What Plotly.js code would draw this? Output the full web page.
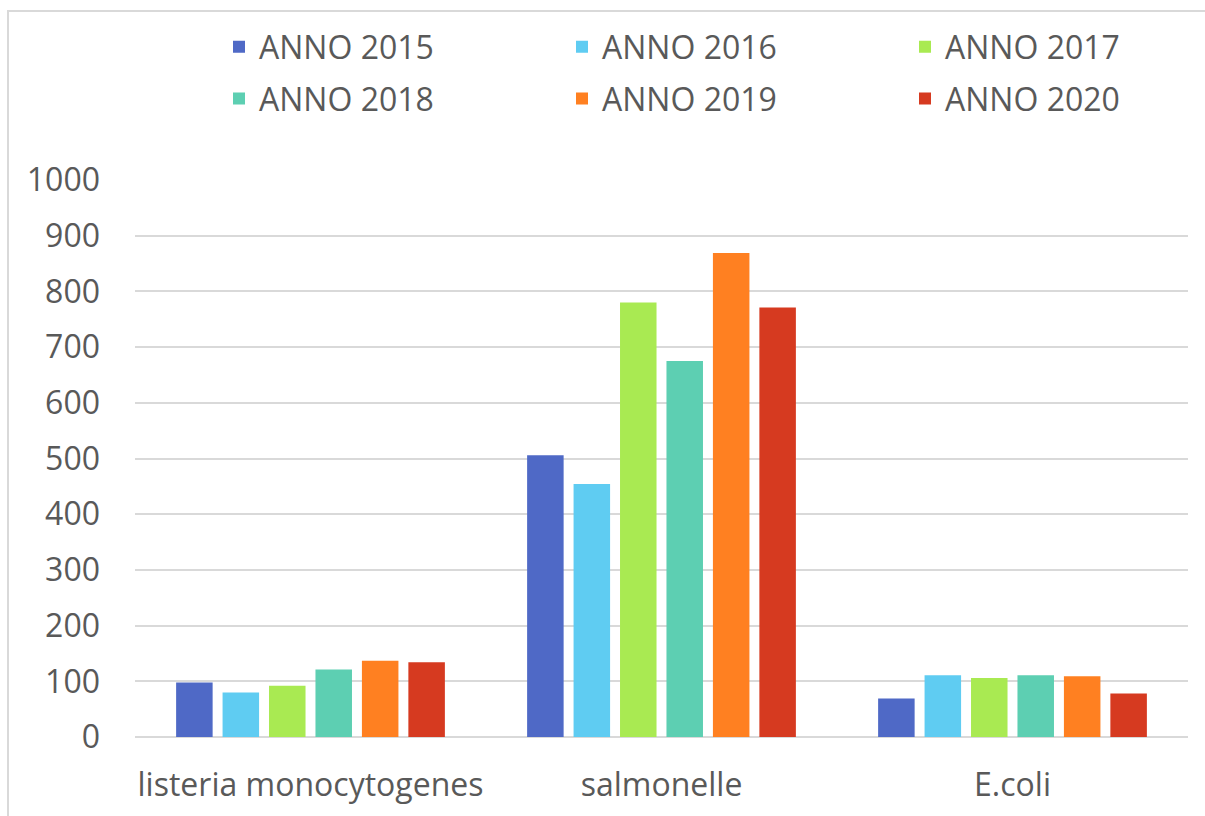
<!DOCTYPE html>
<html>
<head>
<meta charset="utf-8">
<script src="https://cdn.plot.ly/plotly-3.0.1.min.js"></script>
<style>
  html, body { margin: 0; padding: 0; background: #fff; }
  #myDiv { width: 1205px; height: 816px; }
  #frame {
    position: absolute; left: 7px; top: 10px; width: 1300px; height: 900px;
    border-left: 2px solid #d9d9d9; border-top: 2px solid #d9d9d9;
    pointer-events: none;
  }
</style>
</head>
<body>
<div id="myDiv"></div>
<div id="frame"></div>
<script>
// categories on the x axis
const categories = ['listeria monocytogenes', 'salmonelle', 'E.coli'];

// one series per year
const years = ['ANNO 2015', 'ANNO 2016', 'ANNO 2017', 'ANNO 2018', 'ANNO 2019', 'ANNO 2020'];
const anno2015 = [98, 506, 69];
const anno2016 = [80, 454, 111];
const anno2017 = [92, 780, 106];
const anno2018 = [121, 675, 111];
const anno2019 = [137, 869, 109];
const anno2020 = [134, 771, 78];

const seriesValues = [anno2015, anno2016, anno2017, anno2018, anno2019, anno2020];
const seriesColors = ['#4f69c6', '#5fccf2', '#a9ea52', '#5dcfb2', '#ff8021', '#d63a20'];

const yTicks = [0, 100, 200, 300, 400, 500, 600, 700, 800, 900, 1000];

const fontFamily = '"Open Sans", "Segoe UI", sans-serif';
const textColor = '#595959';

// legend is a 3x2 grid: one small vertical legend per column
const legendIds = ['legend', 'legend2', 'legend3'];

const traces = years.map((name, i) => ({
  type: 'bar',
  name: name,
  x: categories,
  y: seriesValues[i],
  marker: { color: seriesColors[i] },
  legend: legendIds[i % 3],
  legendgroup: name, // own group each, so tracegroupgap sets the row pitch
  hoverinfo: 'name+y'
}));

function columnLegend(col) {
  return {
    orientation: 'v',
    xref: 'container',
    yref: 'container',
    x: (219 + col * 343) / 1205,
    xanchor: 'left',
    y: 1 - 73 / 816,
    yanchor: 'middle',
    traceorder: 'grouped',
    tracegroupgap: 7,
    font: { family: fontFamily, size: 32, color: textColor },
    bgcolor: 'rgba(0,0,0,0)'
  };
}

const layout = {
  width: 1205,
  height: 816,
  paper_bgcolor: '#ffffff',
  plot_bgcolor: '#ffffff',
  font: { family: fontFamily, size: 32, color: textColor },
  margin: { l: 135, r: 17, t: 180, b: 79, autoexpand: false },
  barmode: 'group',
  bargap: 0.206,
  bargroupgap: 0.214,
  showlegend: true,
  legend: columnLegend(0),
  legend2: columnLegend(1),
  legend3: columnLegend(2),
  xaxis: {
    type: 'category',
    showgrid: false,
    showline: false,
    zeroline: false,
    ticks: '',
    ticklabelstandoff: 26,
    tickfont: { family: fontFamily, size: 32, color: textColor }
  },
  yaxis: {
    range: [0, 1000],
    tickvals: yTicks,
    ticktext: yTicks.map(String),
    showgrid: true,
    gridcolor: '#d9d9d9',
    gridwidth: 2,
    zeroline: true,
    zerolinecolor: '#d9d9d9',
    zerolinewidth: 2,
    showline: false,
    ticks: '',
    ticklabelstandoff: 34,
    tickfont: { family: fontFamily, size: 32, color: textColor }
  }
};

Plotly.newPlot('myDiv', traces, layout, { displayModeBar: false, responsive: false });
</script>
</body>
</html>
